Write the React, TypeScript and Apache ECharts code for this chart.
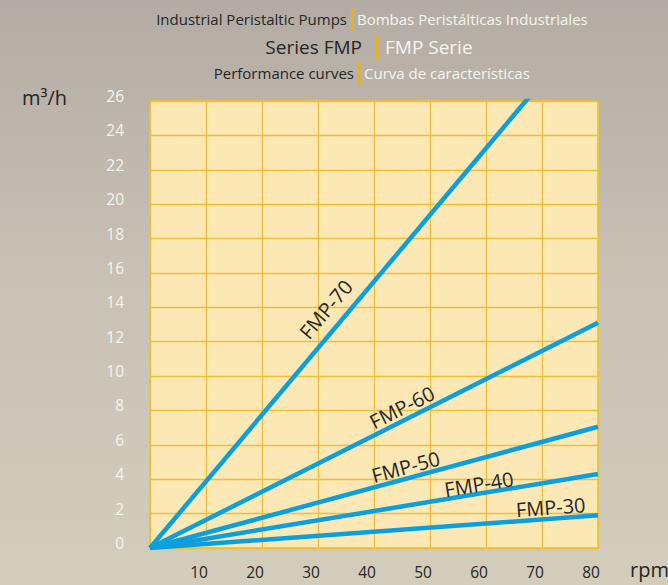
import React, { useEffect, useRef } from "react";
import * as echarts from "echarts";

// ---- data ----
const seriesNames = ["FMP-70", "FMP-60", "FMP-50", "FMP-40", "FMP-30"];
// each pump curve is a straight line from the origin: [rpm, m3/h] end points
const rpmEnd = [80, 80, 80, 80, 80];
const flowEnd = [31.0, 13.1, 7.05, 4.3, 1.9];
const xTicks = [10, 20, 30, 40, 50, 60, 70, 80];
const yTicks = [0, 2, 4, 6, 8, 10, 12, 14, 16, 18, 20, 22, 24, 26];
// label anchor (rpm along the curve) and perpendicular gap in px
const labelAtRpm = [34.0, 46.0, 46.2, 59.0, 71.7];
const labelGap = [19, 12.5, 11.5, 9.5, 11.5];

const DARK = "#262626";
const LIGHT = "#f6f4ef";
const GOLD = "#e8b21c";
const BLUE = "#0b9fdd";
const FONT = "'Open Sans', 'Noto Sans', sans-serif";

export default function App() {
  const ref = useRef<HTMLDivElement>(null);

  useEffect(() => {
    if (!ref.current) return;
    const chart = echarts.init(ref.current, undefined, { renderer: "svg" });

    const option: any = {
      animation: false,
      backgroundColor: new echarts.graphic.LinearGradient(0, 0, 0, 1, [
        { offset: 0, color: "#b3aca4" },
        { offset: 0.5, color: "#c8c2b7" },
        { offset: 1, color: "#d3cdbb" },
      ]),
      grid: {
        left: 150,
        right: 70,
        top: 101,
        bottom: 37,
        show: true,
        backgroundColor: "#fbe8b4",
        borderColor: "#efbe2c",
        borderWidth: 1.5,
      },
      xAxis: {
        type: "value",
        min: 0,
        max: 80,
        interval: 10,
        axisLine: { show: false },
        axisTick: { show: false },
        splitLine: { show: true, lineStyle: { color: "#efc034", width: 1.3 } },
        axisLabel: {
          margin: 16,
          color: DARK,
          fontFamily: FONT,
          fontSize: 15.5,
          padding: [0, 14, 0, 0],
          formatter: (v: number) => (xTicks.indexOf(v) >= 0 ? String(v) : ""),
        },
      },
      yAxis: {
        type: "value",
        min: 0,
        max: 26,
        interval: 2,
        axisLine: { show: false },
        axisTick: { show: false },
        splitLine: { show: true, lineStyle: { color: "#efc034", width: 1.3 } },
        axisLabel: {
          margin: 26,
          color: LIGHT,
          fontFamily: FONT,
          fontSize: 15.5,
          verticalAlign: "bottom",
          lineHeight: 10,
          formatter: (v: number) => (yTicks.indexOf(v) >= 0 ? String(v) : ""),
        },
      },
      series: seriesNames.map((name, i) => ({
        name,
        type: "line",
        symbol: "none",
        clip: true,
        lineStyle: { color: BLUE, width: 4.5 },
        data: [
          [0, 0],
          [rpmEnd[i], flowEnd[i]],
        ],
      })),
    };
    chart.setOption(option);

    const graphics: any[] = [];
    const titleRows = [
      { y: 19, bar: 352, size: 15, left: "Industrial Peristaltic Pumps", right: "Bombas Peristálticas Industriales", gapL: 5, gapR: 5 },
      { y: 47, bar: 377, size: 19, left: "Series FMP", right: "FMP Serie", gapL: 15, gapR: 8 },
      { y: 73, bar: 359, size: 15, left: "Performance curves", right: "Curva de características", gapL: 5, gapR: 5 },
    ];
    titleRows.forEach((r) => {
      graphics.push({
        type: "text",
        x: r.bar - r.gapL,
        y: r.y,
        style: { text: r.left, fill: DARK, font: `${r.size}px ${FONT}`, textAlign: "right", textVerticalAlign: "middle" },
      });
      graphics.push({
        type: "rect",
        shape: { x: r.bar - 1, y: r.y - 12, width: 2.5, height: 25 },
        style: { fill: GOLD },
      });
      graphics.push({
        type: "text",
        x: r.bar + r.gapR,
        y: r.y,
        style: { text: r.right, fill: LIGHT, font: `${r.size}px ${FONT}`, textAlign: "left", textVerticalAlign: "middle" },
      });
    });
    graphics.push({
      type: "text",
      x: 22,
      y: 97,
      style: { text: "m³/h", fill: DARK, font: `20px ${FONT}`, textAlign: "left", textVerticalAlign: "middle" },
    });
    graphics.push({
      type: "text",
      x: 630,
      y: 569,
      style: { text: "rpm", fill: DARK, font: `20px ${FONT}`, textAlign: "left", textVerticalAlign: "middle" },
    });

    seriesNames.forEach((name, i) => {
      const p0 = chart.convertToPixel({ gridIndex: 0 }, [0, 0]) as number[];
      const p1 = chart.convertToPixel({ gridIndex: 0 }, [rpmEnd[i], flowEnd[i]]) as number[];
      const ang = Math.atan2(p0[1] - p1[1], p1[0] - p0[0]);
      const slope = flowEnd[i] / rpmEnd[i];
      const foot = chart.convertToPixel({ gridIndex: 0 }, [labelAtRpm[i], labelAtRpm[i] * slope]) as number[];
      const cx = foot[0] - Math.sin(ang) * labelGap[i];
      const cy = foot[1] - Math.cos(ang) * labelGap[i];
      graphics.push({
        type: "text",
        x: cx,
        y: cy,
        rotation: ang,
        z: 10,
        style: {
          text: name,
          fill: DARK,
          font: `20px ${FONT}`,
          textAlign: "center",
          textVerticalAlign: "middle",
        },
      });
    });

    chart.setOption({ graphic: graphics });

    return () => chart.dispose();
  }, []);

  return (
    <div
      ref={ref}
      style={{ position: "fixed", left: 0, top: 0, width: 668, height: 585 }}
    />
  );
}
